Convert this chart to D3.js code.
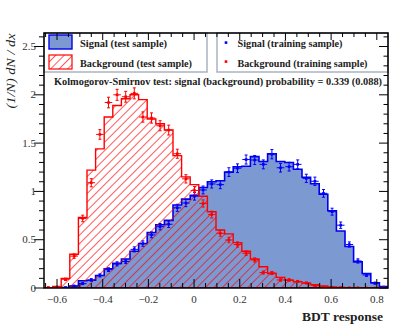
<!DOCTYPE html>
<html>
<head>
<meta charset="utf-8">
<script src="https://cdn.jsdelivr.net/npm/d3@7"></script>
<style>
  body { margin: 0; background: #fff; }
  svg text { font-family: "Liberation Serif", "DejaVu Serif", serif; }
</style>
</head>
<body>
<svg id="chart" width="409" height="327"></svg>
<script>
// histogram binning (BDT response range, 40 bins)
var xMin = -0.657, xMax = 0.849, nBins = 40;

// test sample histograms, normalised (1/N) dN/dx
var sigTest = [0, 0, 0.005, 0.02, 0.075, 0.08, 0.13, 0.2, 0.255, 0.3,
  0.38, 0.46, 0.575, 0.655, 0.7, 0.86, 0.92, 0.96, 1.04, 1.1,
  1.11, 1.2, 1.256, 1.26, 1.36, 1.31, 1.39, 1.31, 1.3, 1.23,
  1.146, 1.08, 0.97, 0.8, 0.59, 0.43, 0.27, 0.15, 0.055, 0.015];
var bkgTest = [0, 0.015, 0.1, 0.35, 0.73, 1.22, 1.44, 1.77, 1.89, 1.96,
  2.0, 1.95, 1.75, 1.7, 1.635, 1.37, 1.15, 1.07, 0.95, 0.79,
  0.6, 0.56, 0.47, 0.38, 0.3, 0.22, 0.15, 0.11, 0.08, 0.065,
  0.05, 0.035, 0.02, 0.01, 0.005, 0.003, 0.002, 0, 0, 0];

// training sample points and their errors
var sigTrain = [0, 0, 0.005, 0.02, 0.045, 0.083, 0.13, 0.19, 0.25, 0.275,
  0.4, 0.46, 0.55, 0.635, 0.66, 0.83, 0.88, 0.95, 1.015, 1.077,
  1.07, 1.2, 1.24, 1.33, 1.325, 1.28, 1.385, 1.245, 1.256, 1.28,
  1.135, 1.105, 0.98, 0.79, 0.65, 0.45, 0.28, 0.135, 0.05, 0.01];
var sigTrainErr = [0, 0, 0.004, 0.008, 0.01, 0.013, 0.016, 0.019, 0.021, 0.022,
  0.026, 0.028, 0.03, 0.033, 0.033, 0.037, 0.038, 0.04, 0.041, 0.042,
  0.042, 0.045, 0.045, 0.047, 0.047, 0.046, 0.048, 0.045, 0.045, 0.046,
  0.043, 0.043, 0.04, 0.036, 0.033, 0.027, 0.022, 0.015, 0.01, 0.005];
var bkgTrain = [0.005, 0.01, 0.09, 0.33, 0.72, 1.09, 1.59, 1.92, 2.0, 1.98,
  2.015, 1.77, 1.76, 1.68, 1.635, 1.39, 1.13, 1.01, 0.875, 0.76,
  0.566, 0.497, 0.45, 0.36, 0.29, 0.16, 0.155, 0.083, 0.083, 0.068,
  0.052, 0.025, 0.01, 0.005, 0.005, 0.003, 0.003, 0, 0, 0];
var bkgTrainErr = [0.004, 0.005, 0.012, 0.023, 0.034, 0.042, 0.05, 0.055, 0.057, 0.056,
  0.057, 0.053, 0.053, 0.052, 0.051, 0.047, 0.043, 0.04, 0.037, 0.035,
  0.03, 0.028, 0.027, 0.024, 0.022, 0.016, 0.016, 0.012, 0.012, 0.01,
  0.009, 0.006, 0.004, 0.003, 0.003, 0.002, 0.002, 0, 0, 0];

var xTickVals = [-0.6, -0.4, -0.2, 0, 0.2, 0.4, 0.6, 0.8];
var yTickVals = [0, 0.5, 1, 1.5, 2, 2.5];
var yMax = 2.64;

var legendLeft = ["Signal (test sample)", "Background (test sample)"];
var legendRight = ["Signal (training sample)", "Background (training sample)"];
var ksText = "Kolmogorov-Smirnov test: signal (background) probability = 0.339 (0.088)";

var sigFill = "#7d99d1", sigLine = "#0000ee", bkgLine = "#ff0000";

var svg = d3.select("#chart");
var L = 44, R = 388, T = 33, B = 288;

var x = d3.scaleLinear().domain([xMin, xMax]).range([L, R]);
var y = d3.scaleLinear().domain([0, yMax]).range([B, T]);
var bw = (xMax - xMin) / nBins;
var edges = d3.range(nBins + 1).map(function(i) { return xMin + i * bw; });

var defs = svg.append("defs");
defs.append("clipPath").attr("id", "plotclip")
  .append("rect").attr("x", L).attr("y", T).attr("width", R - L).attr("height", B - T);
var pat = defs.append("pattern").attr("id", "hatch")
  .attr("patternUnits", "userSpaceOnUse").attr("width", 6).attr("height", 6)
  .attr("patternTransform", "rotate(45)");
pat.append("line").attr("x1", 0).attr("y1", 0).attr("x2", 0).attr("y2", 6)
  .attr("stroke", bkgLine).attr("stroke-width", 1.3);

// step outline of a histogram
function histPath(vals) {
  var p = "M" + x(edges[0]) + "," + y(0);
  for (var i = 0; i < vals.length; i++) {
    p += "L" + x(edges[i]) + "," + y(vals[i]) + "L" + x(edges[i + 1]) + "," + y(vals[i]);
  }
  p += "L" + x(edges[nBins]) + "," + y(0);
  return p;
}

var plot = svg.append("g").attr("clip-path", "url(#plotclip)");

plot.append("path").attr("d", histPath(sigTest) + "Z")
  .attr("fill", sigFill).attr("stroke", sigLine).attr("stroke-width", 1.6);
plot.append("path").attr("d", histPath(bkgTest) + "Z")
  .attr("fill", "url(#hatch)").attr("stroke", bkgLine).attr("stroke-width", 1.4);

function drawPoints(vals, errs, col) {
  var g = plot.append("g").attr("stroke", col).attr("stroke-width", 1);
  for (var i = 0; i < vals.length; i++) {
    var cx = x(edges[i] + bw / 2), cy = y(vals[i]);
    var y1 = y(vals[i] - errs[i]), y2 = y(vals[i] + errs[i]);
    g.append("line").attr("x1", x(edges[i]) + 0.5).attr("x2", x(edges[i + 1]) - 0.5)
      .attr("y1", cy).attr("y2", cy);
    if (errs[i] > 0) {
      g.append("line").attr("x1", cx).attr("x2", cx).attr("y1", y1).attr("y2", y2);
      g.append("line").attr("x1", cx - 1.5).attr("x2", cx + 1.5).attr("y1", y1).attr("y2", y1);
      g.append("line").attr("x1", cx - 1.5).attr("x2", cx + 1.5).attr("y1", y2).attr("y2", y2);
    }
    g.append("rect").attr("x", cx - 1.3).attr("y", cy - 1.3).attr("width", 2.6).attr("height", 2.6)
      .attr("fill", col).attr("stroke", "none");
  }
}
drawPoints(sigTrain, sigTrainErr, "#0000ff");
drawPoints(bkgTrain, bkgTrainErr, "#ff0000");

// legends
var legColor = "#aab2c2";
svg.append("rect").attr("x", L).attr("y", T).attr("width", 207 - L).attr("height", 72 - T)
  .attr("fill", "#fff").attr("stroke", legColor).attr("stroke-width", 1.5);
svg.append("rect").attr("x", 217).attr("y", T).attr("width", R - 217).attr("height", 72 - T)
  .attr("fill", "#fff").attr("stroke", legColor).attr("stroke-width", 1.5);

svg.append("rect").attr("x", 49).attr("y", 35).attr("width", 23).attr("height", 14)
  .attr("fill", sigFill).attr("stroke", sigLine).attr("stroke-width", 1.4);
svg.append("rect").attr("x", 49).attr("y", 55).attr("width", 23).attr("height", 14)
  .attr("fill", "url(#hatch)").attr("stroke", bkgLine).attr("stroke-width", 1.2);
svg.append("rect").attr("x", 224.7).attr("y", 41.3).attr("width", 2.6).attr("height", 2.6).attr("fill", "#0000ff");
svg.append("rect").attr("x", 224.7).attr("y", 60.3).attr("width", 2.6).attr("height", 2.6).attr("fill", "#ff0000");

var legW = [87, 112, 105, 130];
svg.selectAll("text.legL").data(legendLeft).enter().append("text")
  .attr("class", "legL").attr("x", 80).attr("y", function(d, i) { return 47 + i * 19.5; })
  .attr("font-size", 10.5).attr("font-weight", "bold").attr("fill", "#222")
  .attr("textLength", function(d, i) { return legW[i]; }).attr("lengthAdjust", "spacingAndGlyphs")
  .text(function(d) { return d; });
svg.selectAll("text.legR").data(legendRight).enter().append("text")
  .attr("class", "legR").attr("x", 237.5).attr("y", function(d, i) { return 47 + i * 19.5; })
  .attr("font-size", 10.5).attr("font-weight", "bold").attr("fill", "#222")
  .attr("textLength", function(d, i) { return legW[i + 2]; }).attr("lengthAdjust", "spacingAndGlyphs")
  .text(function(d) { return d; });

svg.append("text").attr("x", 54).attr("y", 85).attr("font-size", 10).attr("font-weight", "bold")
  .attr("fill", "#222").attr("textLength", 328).attr("lengthAdjust", "spacingAndGlyphs")
  .text(ksText);

// frame and ticks
var axes = svg.append("g").attr("stroke", "#000");
axes.append("rect").attr("x", L).attr("y", T).attr("width", R - L).attr("height", B - T)
  .attr("fill", "none").attr("stroke-width", 1.5);

var yMinor = d3.range(0, yMax, 0.1);
yMinor.forEach(function(v) {
  var major = Math.abs(v * 2 - Math.round(v * 2)) < 1e-6;
  var len = major ? 10 : 5;
  axes.append("line").attr("x1", L - len).attr("x2", L).attr("y1", y(v)).attr("y2", y(v)).attr("stroke-width", 1);
  axes.append("line").attr("x1", R - (major ? 9 : 4.5)).attr("x2", R).attr("y1", y(v)).attr("y2", y(v)).attr("stroke-width", 1);
});
var xMinor = d3.range(-0.65, xMax, 0.05);
xMinor.forEach(function(v) {
  var major = Math.abs(v * 5 - Math.round(v * 5)) < 1e-6;
  axes.append("line").attr("x1", x(v)).attr("x2", x(v)).attr("y1", B).attr("y2", B - (major ? 9 : 5)).attr("stroke-width", 1);
  axes.append("line").attr("x1", x(v)).attr("x2", x(v)).attr("y1", T).attr("y2", T + (major ? 7 : 4)).attr("stroke-width", 1);
});

svg.selectAll("text.ytick").data(yTickVals).enter().append("text")
  .attr("class", "ytick").attr("x", 36).attr("y", function(d) { return y(d) + 3.5; })
  .attr("text-anchor", "end").attr("font-size", 11).attr("fill", "#333")
  .text(function(d) { return d; });
svg.selectAll("text.xtick").data(xTickVals).enter().append("text")
  .attr("class", "xtick").attr("x", function(d) { return x(d); }).attr("y", 303)
  .attr("text-anchor", "middle").attr("font-size", 11).attr("fill", "#333")
  .text(function(d) { return d < 0 ? "\u2212" + Math.abs(d) : d; });

svg.append("text").attr("x", 383).attr("y", 321).attr("text-anchor", "end")
  .attr("font-size", 13.5).attr("font-weight", "bold").attr("fill", "#222")
  .text("BDT response");

svg.append("text").attr("transform", "translate(15,71) rotate(-90)")
  .attr("text-anchor", "middle").attr("font-size", 12).attr("font-style", "italic").attr("fill", "#222")
  .attr("textLength", 75).attr("lengthAdjust", "spacingAndGlyphs")
  .text("(1/N) dN / dx");
</script>
</body>
</html>
